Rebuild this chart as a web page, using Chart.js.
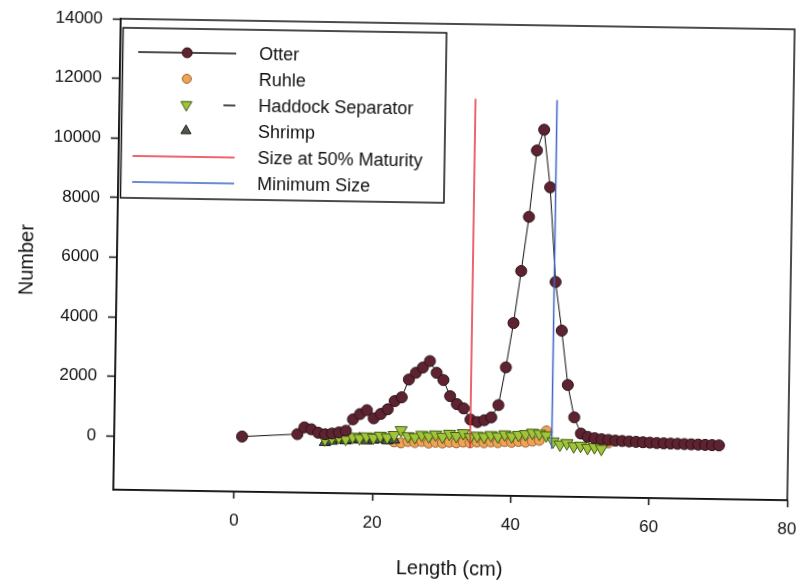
<!DOCTYPE html>
<html>
<head>
<meta charset="utf-8">
<script src="https://cdn.jsdelivr.net/npm/chart.js@4.4.1/dist/chart.umd.min.js"></script>
<style>
  html, body { margin: 0; padding: 0; background: #fff; overflow: hidden; width: 799px; height: 582px; }
  /* the printed figure sits slightly tilted on the page */
  #wrap { width: 830px; height: 600px; transform: rotate(0.9deg); transform-origin: 454px 259.5px; }
</style>
</head>
<body>
<div id="wrap"><canvas id="lengthChart" width="830" height="600"></canvas></div>
<script>
// length frequency per gear (length in cm, number of fish)
const otterLength = [1, 9, 10, 11, 12, 13, 14, 15, 16, 17, 18, 19, 20, 21, 22, 23, 24, 25, 26, 27, 28, 29,
  30, 31, 32, 33, 34, 35, 36, 37, 38, 39, 40, 41, 42, 43, 44, 45, 46, 47, 48, 49, 50, 51, 52, 53, 54,
  55, 56, 57, 58, 59, 60, 61, 62, 63, 64, 65, 66, 67, 68, 69, 70];
const otterCount = [50, 160, 390, 330, 220, 170, 200, 240, 300, 685, 865, 1000, 730, 880, 1040, 1320, 1450, 2050, 2280, 2460, 2680, 2290,
  2050, 1515, 1250, 1110, 740, 660, 725, 825, 1240, 2510, 4000, 5750, 7570, 9800, 10500, 8570, 5400, 3770, 1950, 870, 330, 220, 180, 150, 130,
  110, 100, 90, 80, 70, 60, 50, 45, 40, 35, 30, 25, 20, 15, 10, 5];

const ruhleLength = [23, 24, 25, 26, 27, 28, 29, 30, 31, 32, 33, 34, 35, 36, 37, 38, 39, 40, 41, 42, 43, 44, 45, 54];
const ruhleCount = [-50, -80, -30, -60, -20, -70, -40, -60, -30, -50, -20, -40, -10, -30, 0, -20, 20, 0, 30, 10, 50, 80, 400, 30];

const separatorLength = [13, 14, 15, 16, 17, 18, 19, 20, 21, 22, 23, 24, 25, 26, 27, 28, 29, 30, 31, 32, 33,
  34, 35, 36, 37, 38, 39, 40, 41, 42, 43, 44, 45, 46, 47, 48, 49, 50, 51, 52, 53];
const separatorCount = [0, 50, 80, 30, 100, 60, 120, 80, 150, 100, 180, 350, 150, 120, 200, 160, 220, 150, 250, 180, 280,
  150, 200, 170, 230, 190, 260, 200, 250, 280, 330, 300, 250, 50, -50, 0, -100, -80, -150, -120, -170];

const shrimpLength = [13, 14, 15, 16, 17, 18, 19, 20, 21, 22, 23];
const shrimpCount = [-100, -50, 20, -30, 0, 40, -20, 10, 30, -10, 20];

// reference lengths (cm) and the vertical extent of their lines
const maturityLength = 34;
const minimumLength = 45.8;
const refLineCount = [-200, 11500];

const xTicks = [0, 20, 40, 60, 80];
const yTicks = [0, 2000, 4000, 6000, 8000, 10000, 12000, 14000];

const FONT = "'Liberation Sans', Arial, sans-serif";

function toPoints(xs, ys) {
  return xs.map((x, i) => ({ x: x, y: ys[i] }));
}

function drawMarker(ctx, style, x, y, r, fill, stroke, rotation) {
  ctx.save();
  ctx.fillStyle = fill;
  ctx.strokeStyle = stroke;
  ctx.lineWidth = 1;
  ctx.beginPath();
  if (style === "circle") {
    ctx.arc(x, y, r, 0, Math.PI * 2);
  } else {
    const start = (rotation || 0) * Math.PI / 180;
    for (let k = 0; k < 3; k++) {
      const a = start + k * 2 * Math.PI / 3;
      const px = x + Math.sin(a) * r;
      const py = y - Math.cos(a) * r;
      if (k === 0) ctx.moveTo(px, py); else ctx.lineTo(px, py);
    }
    ctx.closePath();
  }
  ctx.fill();
  ctx.stroke();
  ctx.restore();
}

// closes the plot frame on top and right, and sets the y title a little low
const frameBox = {
  id: "frameBox",
  afterDatasetsDraw(chart) {
    const { ctx, chartArea: a } = chart;
    ctx.save();
    ctx.strokeStyle = "#111";
    ctx.lineWidth = 1.5;
    ctx.strokeRect(a.left, a.top, a.right - a.left, a.bottom - a.top);
    ctx.translate(27, (a.top + a.bottom) / 2 + 7);
    ctx.rotate(-Math.PI / 2);
    ctx.fillStyle = "#111";
    ctx.font = "20px " + FONT;
    ctx.textAlign = "center";
    ctx.textBaseline = "middle";
    ctx.fillText("Number", 0, 0);
    ctx.restore();
  },
};

// boxed legend in the upper left of the plot
const boxLegend = {
  id: "boxLegend",
  afterDraw(chart) {
    const { ctx, chartArea: a } = chart;
    const left = a.left + 2.5;
    const top = a.top + 9;
    const w = 323.5;
    const h = 170;
    ctx.save();
    ctx.fillStyle = "#fff";
    ctx.fillRect(left, top, w, h);
    ctx.strokeStyle = "#111";
    ctx.lineWidth = 1.5;
    ctx.strokeRect(left, top, w, h);
    ctx.font = "18px " + FONT;
    ctx.textBaseline = "middle";
    ctx.textAlign = "left";

    chart.data.datasets.forEach((ds, i) => {
      const y = top + 24 + i * 26;
      const mx = left + 64.5;
      if (ds.showLine) {
        ctx.strokeStyle = ds.borderColor;
        ctx.lineWidth = 1.5;
        ctx.beginPath();
        const x0 = ds.pointRadius ? left + 15.5 : left + 11.5;
        ctx.moveTo(x0, y);
        ctx.lineTo(left + 113.5, y);
        ctx.stroke();
      }
      if (ds.legendDash) {
        ctx.strokeStyle = "#111";
        ctx.lineWidth = 1.5;
        ctx.beginPath();
        ctx.moveTo(left + 101.5, y);
        ctx.lineTo(left + 113.5, y);
        ctx.stroke();
      }
      if (ds.pointRadius) {
        drawMarker(ctx, ds.pointStyle, mx, y, ds.pointRadius * 0.9, ds.pointBackgroundColor,
          ds.pointBorderColor, ds.pointRotation);
      }
      ctx.fillStyle = "#111";
      ctx.fillText(ds.label, left + 136.5, y + 1);
    });
    ctx.restore();
  },
};

const plainNumber = (value) => String(value);

new Chart(document.getElementById("lengthChart"), {
  type: "scatter",
  data: {
    datasets: [
      {
        label: "Otter",
        data: toPoints(otterLength, otterCount),
        showLine: true,
        borderColor: "#111",
        borderWidth: 1,
        pointStyle: "circle",
        pointRadius: 5.5,
        pointBackgroundColor: "#5e2330",
        pointBorderColor: "#2a1016",
        pointBorderWidth: 1,
        order: 2,
      },
      {
        label: "Ruhle",
        data: toPoints(ruhleLength, ruhleCount),
        showLine: false,
        pointStyle: "circle",
        pointRadius: 5,
        pointBackgroundColor: "#eea456",
        pointBorderColor: "#9c6232",
        pointBorderWidth: 1,
        order: 5,
      },
      {
        label: "Haddock Separator",
        data: toPoints(separatorLength, separatorCount),
        showLine: false,
        legendDash: true,
        pointStyle: "triangle",
        pointRotation: 180,
        pointRadius: 7,
        pointBackgroundColor: "#a2c43a",
        pointBorderColor: "#3f5a12",
        pointBorderWidth: 1,
        order: 3,
      },
      {
        label: "Shrimp",
        data: toPoints(shrimpLength, shrimpCount),
        showLine: false,
        pointStyle: "triangle",
        pointRadius: 6.5,
        pointBackgroundColor: "#4f5a4c",
        pointBorderColor: "#1e1e1e",
        pointBorderWidth: 1,
        order: 4,
      },
      {
        label: "Size at 50% Maturity",
        data: toPoints([maturityLength, maturityLength], refLineCount),
        showLine: true,
        borderColor: "#e8323e",
        borderWidth: 1.5,
        pointRadius: 0,
        order: 0,
      },
      {
        label: "Minimum Size",
        data: toPoints([minimumLength, minimumLength], refLineCount),
        showLine: true,
        borderColor: "#3d64c6",
        borderWidth: 1.5,
        pointRadius: 0,
        order: 1,
      },
    ],
  },
  options: {
    responsive: false,
    animation: false,
    layout: { padding: { top: 24, right: 39, left: 0, bottom: 18 } },
    plugins: {
      legend: { display: false },
      tooltip: { enabled: false },
    },
    scales: {
      x: {
        type: "linear",
        min: -17.5,
        max: 80,
        afterBuildTicks: (axis) => { axis.ticks = xTicks.map((v) => ({ value: v })); },
        afterFit: (axis) => { axis.height = 87; axis.paddingLeft = 0; axis.paddingRight = 0; },
        grid: { drawOnChartArea: false, drawTicks: true, tickLength: 7, tickWidth: 1.5, color: "#111" },
        border: { display: true, color: "#111", width: 1.5 },
        ticks: { color: "#111", padding: 12, callback: plainNumber, font: { family: FONT, size: 17 }, maxRotation: 0 },
        title: { display: true, text: "Length (cm)", color: "#111", padding: { top: 0, bottom: 1 }, font: { family: FONT, size: 20 } },
      },
      y: {
        type: "linear",
        min: -1800,
        max: 14000,
        afterBuildTicks: (axis) => { axis.ticks = yTicks.map((v) => ({ value: v })); },
        afterFit: (axis) => { axis.width = 117; axis.paddingTop = 0; axis.paddingBottom = 0; },
        grid: { drawOnChartArea: false, drawTicks: true, tickLength: 8, tickWidth: 1.5, color: "#111" },
        border: { display: true, color: "#111", width: 1.5 },
        ticks: { color: "#111", padding: 10, callback: plainNumber, font: { family: FONT, size: 17 } },
        title: { display: false },
      },
    },
  },
  plugins: [frameBox, boxLegend],
});
</script>
</body>
</html>
